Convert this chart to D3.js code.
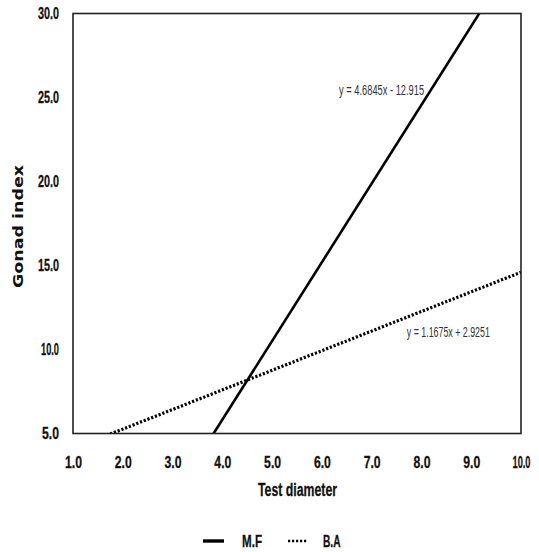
<!DOCTYPE html>
<html>
<head>
<meta charset="utf-8">
<script src="https://cdn.jsdelivr.net/npm/d3@7"></script>
<style>
  html, body { margin: 0; padding: 0; background: #fff; }
  svg { display: block; }
</style>
</head>
<body>
<svg id="chart" width="539" height="552"></svg>
<script>
// Regression lines of gonad index against test diameter
const seriesNames = ["M.F", "B.A"];
const slopes = [4.6845, 1.1675];
const intercepts = [-12.915, 2.9251];
const equationLabels = ["y = 4.6845x - 12.915", "y = 1.1675x + 2.9251"];
const labelAnchors = [[7.2, 25.15], [8.54, 10.74]]; // data coordinates of equation labels
const xTicks = [1, 2, 3, 4, 5, 6, 7, 8, 9, 10];
const yTicks = [5, 10, 15, 20, 25, 30];
const xDomain = [1, 10];
const yDomain = [5, 30];

const svg = d3.select("#chart");
const plotLeft = 73, plotRight = 521, plotTop = 13.5, plotBottom = 433.5;

const x = d3.scaleLinear().domain(xDomain).range([plotLeft, plotRight]);
const y = d3.scaleLinear().domain(yDomain).range([plotBottom, plotTop]);

const boldFont = "'Liberation Sans', Arial, sans-serif";
const narrowFont = "'Liberation Sans', Arial, sans-serif";
// condensed look: squeeze each label to a fixed advance
const squeeze = (sel, widthFn) => sel
  .attr("textLength", widthFn)
  .attr("lengthAdjust", "spacingAndGlyphs");

svg.append("defs").append("clipPath").attr("id", "plotClip")
  .append("rect").attr("x", plotLeft).attr("y", plotTop)
  .attr("width", plotRight - plotLeft).attr("height", plotBottom - plotTop);

// Regression lines, drawn across the x range and clipped to the plot box
const styles = [
  { dash: null, width: 2.6 },
  { dash: "2.2,1.8", width: 3.2 }
];
const lineGen = d3.line().x(d => x(d[0])).y(d => y(d[1]));
seriesNames.forEach((name, i) => {
  const pts = [xDomain[0], xDomain[1]].map(v => [v, slopes[i] * v + intercepts[i]]);
  svg.append("path")
    .attr("clip-path", "url(#plotClip)")
    .attr("d", lineGen(pts))
    .attr("fill", "none")
    .attr("stroke", "#000")
    .attr("stroke-width", styles[i].width)
    .attr("stroke-dasharray", styles[i].dash);
});

// Plot frame
svg.append("rect")
  .attr("x", plotLeft).attr("y", plotTop)
  .attr("width", plotRight - plotLeft).attr("height", plotBottom - plotTop)
  .attr("fill", "none").attr("stroke", "#222").attr("stroke-width", 1.6);

// Axis tick labels
const fmt = d3.format(".1f");
const tickWidth = v => (v === 10 ? 18 : v >= 10 ? 21 : 17);

const xAxis = svg.append("g").attr("transform", `translate(0,${plotBottom})`)
  .call(d3.axisBottom(x).tickValues(xTicks).tickFormat(fmt).tickSize(0).tickPadding(22));
xAxis.select(".domain").remove();
xAxis.selectAll("text")
  .attr("font-family", boldFont).attr("font-weight", "bold")
  .attr("font-size", 17).attr("fill", "#111")
  .attr("stroke", "#111").attr("stroke-width", 0.3)
  .call(squeeze, d => tickWidth(d));

const yAxis = svg.append("g").attr("transform", `translate(${plotLeft},0)`)
  .call(d3.axisLeft(y).tickValues(yTicks).tickFormat(fmt).tickSize(0).tickPadding(14));
yAxis.select(".domain").remove();
yAxis.selectAll("text")
  .attr("font-family", boldFont).attr("font-weight", "bold")
  .attr("font-size", 17).attr("fill", "#111")
  .attr("stroke", "#111").attr("stroke-width", 0.3)
  .call(squeeze, d => tickWidth(d));

// Equation labels
const eqWidths = [85, 83];
equationLabels.forEach((t, i) => {
  svg.append("text")
    .attr("x", x(labelAnchors[i][0])).attr("y", y(labelAnchors[i][1]))
    .attr("text-anchor", "middle")
    .attr("font-family", narrowFont)
    .attr("font-size", 14).attr("fill", "#333")
    .call(squeeze, eqWidths[i])
    .text(t);
});

// Axis titles
svg.append("text")
  .attr("x", 297.5).attr("y", 496)
  .attr("text-anchor", "middle")
  .attr("font-family", boldFont).attr("font-weight", "bold")
  .attr("font-size", 17.5).attr("fill", "#111")
  .attr("stroke", "#111").attr("stroke-width", 0.3)
  .call(squeeze, 79)
  .text("Test diameter");

svg.append("text")
  .attr("transform", "translate(23,226.5) rotate(-90)")
  .attr("text-anchor", "middle")
  .attr("font-family", "'DejaVu Sans', sans-serif").attr("font-weight", "bold")
  .attr("font-size", 14).attr("fill", "#111")
  .call(squeeze, 123)
  .text("Gonad index");

// Legend
const legendItems = [
  { x1: 203, x2: 224, tx: 242, w: 20 },
  { x1: 288, x2: 308, tx: 323, w: 17.5 }
];
seriesNames.forEach((name, i) => {
  const it = legendItems[i];
  svg.append("line")
    .attr("x1", it.x1).attr("x2", it.x2).attr("y1", 541).attr("y2", 541)
    .attr("stroke", "#000")
    .attr("stroke-width", i === 0 ? 3.4 : 2.4)
    .attr("stroke-dasharray", styles[i].dash);
  svg.append("text")
    .attr("x", it.tx).attr("y", 547)
    .attr("font-family", boldFont).attr("font-weight", "bold")
    .attr("font-size", 16.5).attr("fill", "#111")
    .attr("stroke", "#111").attr("stroke-width", 0.3)
    .call(squeeze, it.w)
    .text(name);
});
</script>
</body>
</html>
